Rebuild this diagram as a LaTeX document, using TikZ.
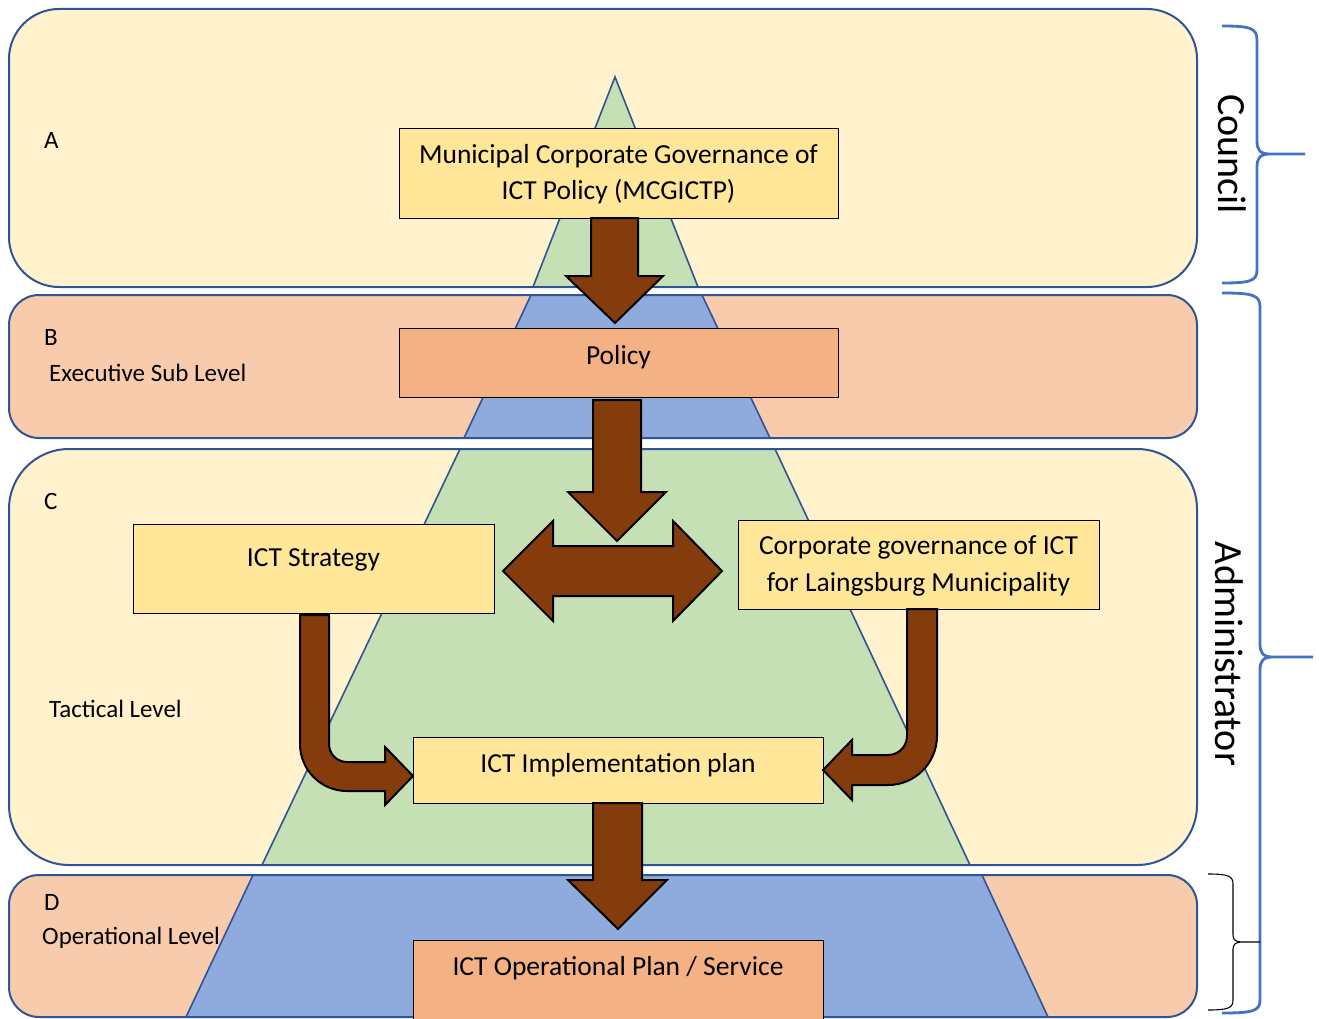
\documentclass[tikz,border=0pt]{standalone}
\usepackage{fontspec}
\setmainfont{Carlito}
\definecolor{bandY}{HTML}{FFF2CC}
\definecolor{bandO}{HTML}{F8CBAD}
\definecolor{bandLine}{HTML}{2F5597}
\definecolor{pyrG}{HTML}{C5E0B4}
\definecolor{pyrB}{HTML}{8FAADC}
\definecolor{boxY}{HTML}{FFE699}
\definecolor{boxO}{HTML}{F4B183}
\definecolor{brown}{HTML}{843C0C}
\definecolor{braceBlue}{HTML}{4472C4}
\tikzset{
  bandborder/.style={draw=bandLine, line width=2pt},
  pyr/.style={draw=bandLine, line width=1.6pt},
  boxshape/.style={draw=black, line width=0.9pt, inner sep=0pt},
  boxtext/.style={font=\fontsize{27.5}{36.5}\selectfont, align=center, inner sep=0pt},
  lbl/.style={font=\fontsize{25}{30}\selectfont, inner sep=0pt, anchor=west},
  sidelbl/.style={font=\fontsize{40}{48}\selectfont, inner sep=0pt, rotate=-90},
  blockarrow/.style={fill=brown, draw=black, line width=2pt, line join=miter},
  bracelineB/.style={draw=braceBlue, line width=2.8pt},
  bracelineK/.style={draw=black, line width=1.1pt}
}
\begin{document}
\begin{tikzpicture}[x=1pt,y=-1pt]
\useasboundingbox (0,0) rectangle (1319,1019);
\fill[white] (0,0) rectangle (1319,1019);
% bands fill
\fill[bandY, rounded corners=50pt] (9,9) rectangle (1197,287);
\fill[bandO, rounded corners=30pt] (9,295) rectangle (1197,438);
\fill[bandY, rounded corners=60pt] (9,449) rectangle (1197,865);
\fill[bandO, rounded corners=30pt] (9,875) rectangle (1197,1017);
% pyramid
\filldraw[pyr, fill=pyrG] (615,77) -- (698,287) -- (533,287) -- cycle;
\filldraw[pyr, fill=pyrB] (531,295) -- (702,295) -- (770,438) -- (464,438) -- cycle;
\filldraw[pyr, fill=pyrG] (460,449) -- (775,449) -- (970,865) -- (262,865) -- cycle;
\filldraw[pyr, fill=pyrB] (253,875) -- (982,875) -- (1048,1017) -- (186,1017) -- cycle;
% band borders
\draw[bandborder, rounded corners=50pt] (9,9) rectangle (1197,287);
\draw[bandborder, rounded corners=30pt] (9,295) rectangle (1197,438);
\draw[bandborder, rounded corners=60pt] (9,449) rectangle (1197,865);
\draw[bandborder, rounded corners=30pt] (9,875) rectangle (1197,1017);
% left labels
\node[lbl] (la) at (44,140) {A};
\node[lbl] (lb) at (44,337) {B};
\node[lbl] (lbt) at (49,373) {Executive Sub Level};
\node[lbl] (lc) at (44,501) {C};
\node[lbl] (lct) at (49,709) {Tactical Level};
\node[lbl] (ld) at (44,902) {D};
\node[lbl] (ldt) at (42,938) {Operational Level};
% boxes
\node[boxshape, fill=boxY, minimum width=439pt, minimum height=90pt] (mcg) at (618.5,173) {};
\node[boxtext] (mcgT) at (618.5,174) {Municipal Corporate Governance of\\ICT Policy (MCGICTP)};
\node[boxshape, fill=boxO, minimum width=439pt, minimum height=69pt] (pol) at (618.5,362.5) {};
\node[boxtext] (polT) at (618.5,357) {Policy};
\node[boxshape, fill=boxY, minimum width=361pt, minimum height=89pt] (str) at (313.5,568.5) {};
\node[boxtext] (strT) at (313.5,560) {ICT Strategy};
\node[boxshape, fill=boxY, minimum width=361pt, minimum height=89pt] (cor) at (918.5,564.5) {};
\node[boxtext] (corT) at (918.5,566) {Corporate governance of ICT\\for Laingsburg Municipality};
\node[boxshape, fill=boxY, minimum width=410pt, minimum height=66pt] (imp) at (618,770) {};
\node[boxtext] (impT) at (618,765) {ICT Implementation plan};
\node[boxshape, fill=boxO, minimum width=410pt, minimum height=82pt] (ops) at (618,981) {};
\node[boxtext] (opsT) at (618,968) {ICT Operational Plan / Service};
% block arrows
\filldraw[blockarrow] (591,218) -- (638,218) -- (638,276) -- (663,276) -- (615,323) -- (566,276) -- (591,276) -- cycle;
\filldraw[blockarrow] (593,400) -- (641,400) -- (641,492) -- (666,492) -- (617,541) -- (568,492) -- (593,492) -- cycle;
\filldraw[blockarrow] (503,571) -- (553,521) -- (553,546) -- (673,546) -- (673,521) -- (722,571) -- (673,621) -- (673,596) -- (553,596) -- (553,621) -- cycle;
\filldraw[blockarrow] (593,803) -- (642,803) -- (642,880) -- (667,880) -- (618,929) -- (568,880) -- (593,880) -- cycle;
\filldraw[blockarrow] (300,615) -- (300,744) .. controls (300,770) and (321,791) .. (347,791) -- (385,791) -- (385,805) -- (413,776) -- (385,747) -- (385,762) -- (347,762) .. controls (337,762) and (329,754) .. (329,744) -- (329,615) -- cycle;
\filldraw[blockarrow] (907,609) -- (907,736) .. controls (907,746.5) and (898.5,755) .. (888,755) -- (852,755) -- (852,740) -- (823,770) -- (852,800) -- (852,785) -- (888,785) .. controls (915,785) and (937,763) .. (937,736) -- (937,609) -- cycle;
% braces
\draw[bracelineB] (1222,26) .. controls (1250,26) and (1257,28) .. (1257,40) -- (1257,141) .. controls (1257,150) and (1260,154) .. (1270,154) -- (1305,154)
  (1270,154) .. controls (1260,154) and (1257,158) .. (1257,167) -- (1257,270) .. controls (1257,281) and (1250,283) .. (1222,283);
\draw[bracelineB] (1222,293) .. controls (1253,293) and (1260,295) .. (1260,307) -- (1260,644) .. controls (1260,653) and (1263,657) .. (1273,657) -- (1313,657)
  (1273,657) .. controls (1263,657) and (1260,661) .. (1260,670) -- (1260,1000) .. controls (1260,1011) and (1253,1013) .. (1222,1013);
\draw[bracelineK] (1208,874) .. controls (1228,874) and (1233,876) .. (1233,884) -- (1233,935) .. controls (1233,940) and (1236,942) .. (1242,942) -- (1260,942)
  (1242,942) .. controls (1236,942) and (1233,944) .. (1233,949) -- (1233,1000) .. controls (1233,1008) and (1228,1010) .. (1208,1010);
\node[sidelbl] (council) at (1232,154) {Council};
\node[sidelbl] (admin) at (1229,654) {Administrator};
\end{tikzpicture}
\end{document}
